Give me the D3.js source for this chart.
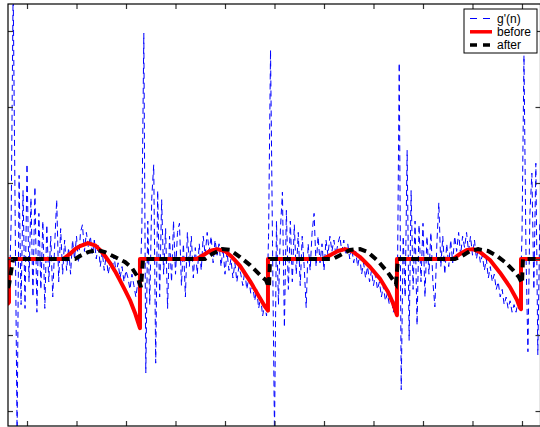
<!DOCTYPE html>
<html>
<head>
<meta charset="utf-8">
<script src="https://cdn.jsdelivr.net/npm/d3@7"></script>
<style>
  body { margin: 0; background: #fff; }
  svg { display: block; }
</style>
</head>
<body>
<div id="chart"></div>
<script>
// tick positions (labels are cut off in the original)
const xTicks = [0, 50, 100, 150, 200, 250, 300, 350, 400, 450, 500];
const yTicks = [-2, -1, 0, 1, 2, 3];

// g'(n), sampled every 2 samples starting at n = -18
const blueStart = -18;
const blueStep = 2;
const blueP1 = [-0.55, 0.5, 3.6, 0.6, -2.3, 1.1, -0.6, 0.9, -0.65, 1.25,
  -0.3, 0.8, -0.5, 0.95, -0.7, 0.6, -0.4, 0.5, -0.65, 0.45,
  -0.3, 0.3, -0.5, 0.2, 0.78, -0.3, 0.4, -0.2, 0.25, -0.15,
  0.15, -0.2, 0.25, 0.0, 0.3, -0.05, 0.35, 0.45, 0.1, 0.35,
  0.15, 0.3, 0.05, 0.25, 0.0, 0.2, -0.1, 0.1, -0.15, 0.05,
  -0.2, -0.05, -0.15, 0.05, -0.2, -0.05, -0.25, -0.1, -0.3, -0.15,
  -0.25, -0.4, -0.2, -0.35, -0.5, -0.3];
const blueP2 = [-0.5, 0.4, 2.97, -1.5, 0.5, -0.6, 0.8, 1.24, -1.37, 0.9,
  -0.5, 0.78, -0.2, 0.4, -0.65, 0.3, -0.3, 0.5, -0.2, 0.35,
  0.47, -0.35, 0.2, -0.5, 0.35, -0.1, 0.3, -0.25, 0.15, -0.2,
  0.2, -0.15, 0.3, 0.05, 0.35, 0.1, 0.3, -0.05, 0.25, 0.05,
  0.2, -0.1, 0.15, -0.2, 0.1, -0.15, 0.0, -0.25, -0.05, -0.3,
  -0.1, -0.2, -0.35, -0.15, -0.4, -0.25, -0.45, -0.35, -0.55, -0.4,
  -0.65, -0.5, -0.75, -0.6];
const blueP3 = [-0.75, 0.3, 2.75, 0.2, -2.3, 0.5, -0.6, 0.4, 0.88, -0.9,
  0.64, -0.4, 0.5, -0.3, 0.45, -0.2, 0.35, -0.35, 0.3, -0.1,
  -0.64, 0.2, -0.15, 0.35, 0.6, -0.1, 0.3, -0.05, 0.2, -0.15,
  0.25, 0.05, 0.3, 0.1, 0.25, 0.05, 0.2, 0.3, 0.1, 0.25,
  0.05, 0.2, 0.0, 0.15, -0.05, 0.1, -0.1, 0.05, -0.2, -0.05,
  -0.25, -0.1, -0.3, -0.15, -0.35, -0.2, -0.4, -0.3, -0.5, -0.35,
  -0.55, -0.45, -0.6, -0.5, -0.7, -0.55];
const blueP4 = [-0.6, 2.58, -1.72, 0.3, -0.5, 1.43, -1.07, 0.9, -0.4, 0.5,
  -0.87, 0.45, -0.3, 0.47, -0.5, 0.3, -0.2, 0.35, -0.3, -0.63,
  0.2, 0.74, -0.1, 0.3, -0.2, 0.2, -0.1, 0.25, -0.05, 0.3,
  0.1, 0.35, 0.05, 0.3, 0.15, 0.35, 0.1, 0.3, 0.05, 0.25,
  0.0, 0.15, -0.05, 0.05, -0.15, 0.0, -0.25, -0.1, -0.3, -0.2,
  -0.4, -0.3, -0.5, -0.4, -0.6, -0.5, -0.65, -0.55, -0.7, -0.6,
  -0.7, -0.55];
const blueP5 = [-0.6, 0.3, 2.68, 0.1, -1.22, 0.6, 1.13, -0.4, 1.26, -1.26, 0.5];
const blueValues = [].concat(blueP1, blueP2, blueP3, blueP4, blueP5);

// "before": [n, value]
const beforePts = [
  [-20, -0.6], [-18.2, -0.57], [-18.2, 0],
  [36.4, 0], [43.4, 0.066], [48.5, 0.13], [53.5, 0.17], [61.6, 0.21], [68.7, 0.18],
  [73.7, 0.12], [78.8, 0.04], [83.8, -0.05], [88.9, -0.16], [93.9, -0.28], [99, -0.41],
  [104, -0.54], [109.1, -0.71], [114.1, -0.91], [114.1, 0],
  [171.7, 0], [177.8, 0.05], [184.8, 0.105], [191.9, 0.13], [200, 0.105], [207.1, 0.026],
  [215.2, -0.09], [225.3, -0.29], [233.3, -0.47], [239.4, -0.605], [243.4, -0.68], [243.4, 0],
  [299, 0], [306.1, 0.05], [314.1, 0.105], [321.2, 0.13], [328.3, 0.105], [336.4, 0.026],
  [346.5, -0.105], [356.6, -0.26], [364.6, -0.43], [369.7, -0.58], [373.7, -0.74], [373.7, 0],
  [430.3, 0], [437.4, 0.066], [444.4, 0.12], [450.5, 0.13], [457.6, 0.09], [467.7, -0.013],
  [477.8, -0.18], [487.9, -0.37], [495, -0.54], [498, -0.645], [499, -0.66], [499, 0],
  [520, 0]
];

// "after": [n, value]
const afterPts = [
  [-19.2, -0.38], [-18.2, -0.34], [-14.1, 0],
  [48.5, 0], [53.5, 0.04], [61.6, 0.09], [70.7, 0.12], [78.8, 0.09], [88.9, 0.026],
  [99, -0.04], [106.1, -0.12], [111.1, -0.22], [115.2, -0.37], [117.2, 0],
  [179.8, 0], [186.9, 0.066], [197, 0.13], [205.1, 0.12], [215.2, 0.026], [225.3, -0.08],
  [235.4, -0.21], [241.4, -0.28], [244.4, -0.37], [245.5, 0],
  [309.1, 0], [316.2, 0.05], [326.3, 0.12], [336.4, 0.13], [344.4, 0.09], [354.5, -0.026],
  [364.6, -0.18], [372.7, -0.33], [374.7, 0],
  [432.3, 0], [439.4, 0.04], [447.5, 0.105], [455.6, 0.13], [465.7, 0.105], [474.7, 0.04],
  [482.8, -0.04], [490.9, -0.145], [497, -0.24], [500, -0.32], [501, 0],
  [520, 0]
];

const legendLabels = ["g'(n)", "before", "after"];

const width = 540, height = 427;
const frame = { left: 8, right: 540.5, top: 4, bottom: 426 };

const svg = d3.select("#chart")
  .append("svg")
  .attr("width", width)
  .attr("height", height);

const x = d3.scaleLinear()
  .domain([-19.2, 518.7])
  .range([frame.left, frame.right]);

const y = d3.scaleLinear()
  .domain([-2.197, 3.355])
  .range([frame.bottom, frame.top]);

svg.append("clipPath")
  .attr("id", "plotArea")
  .append("rect")
  .attr("x", frame.left)
  .attr("y", frame.top)
  .attr("width", frame.right - frame.left)
  .attr("height", frame.bottom - frame.top);

const plot = svg.append("g").attr("clip-path", "url(#plotArea)");

const blueData = blueValues.map((v, i) => [blueStart + i * blueStep, v]);
const line = d3.line().x(d => x(d[0])).y(d => y(d[1]));

plot.append("path")
  .datum(blueData)
  .attr("d", line)
  .attr("fill", "none")
  .attr("stroke", "#0000ff")
  .attr("stroke-width", 1)
  .attr("stroke-dasharray", "6,4");

plot.append("path")
  .datum(beforePts)
  .attr("d", line)
  .attr("fill", "none")
  .attr("stroke", "#ff0000")
  .attr("stroke-width", 4)
  .attr("stroke-linejoin", "round");

plot.append("path")
  .datum(afterPts)
  .attr("d", line)
  .attr("fill", "none")
  .attr("stroke", "#000")
  .attr("stroke-width", 4)
  .attr("stroke-dasharray", "8,5");

// axes: inward ticks, no labels
const tickStyle = g => {
  g.select(".domain").remove();
  g.selectAll(".tick line").attr("stroke", "#333").attr("stroke-width", 1.2);
};

svg.append("g")
  .attr("transform", `translate(0,${frame.top})`)
  .call(d3.axisTop(x).tickValues(xTicks).tickSize(-5).tickFormat(""))
  .call(tickStyle);

svg.append("g")
  .attr("transform", `translate(0,${frame.bottom})`)
  .call(d3.axisBottom(x).tickValues(xTicks).tickSize(-5).tickFormat(""))
  .call(tickStyle);

svg.append("g")
  .attr("transform", `translate(${frame.left},0)`)
  .call(d3.axisLeft(y).tickValues(yTicks).tickSize(-5).tickFormat(""))
  .call(tickStyle);

svg.append("g")
  .attr("transform", `translate(${frame.right},0)`)
  .call(d3.axisRight(y).tickValues(yTicks).tickSize(-5).tickFormat(""))
  .call(tickStyle);

svg.append("rect")
  .attr("x", frame.left)
  .attr("y", frame.top)
  .attr("width", frame.right - frame.left)
  .attr("height", frame.bottom - frame.top)
  .attr("fill", "none")
  .attr("stroke", "#000")
  .attr("stroke-width", 1.2);

// legend
const legend = svg.append("g").attr("transform", "translate(464,9)");
legend.append("rect")
  .attr("width", 73)
  .attr("height", 44)
  .attr("fill", "#fff")
  .attr("stroke", "#000")
  .attr("stroke-width", 1);

const legendStyles = [
  { color: "#0000ff", width: 1, dash: "7,6" },
  { color: "#ff0000", width: 3.5, dash: null },
  { color: "#000", width: 3.5, dash: "7,6" }
];

legendLabels.forEach((label, i) => {
  const cy = 9.5 + i * 13.3;
  const s = legendStyles[i];
  legend.append("line")
    .attr("x1", 6).attr("x2", 28)
    .attr("y1", cy).attr("y2", cy)
    .attr("stroke", s.color)
    .attr("stroke-width", s.width)
    .attr("stroke-dasharray", s.dash);
  legend.append("text")
    .attr("x", 33)
    .attr("y", cy + 4)
    .attr("font-family", "Liberation Sans, Arial, sans-serif")
    .attr("font-size", 12)
    .attr("fill", "#000")
    .text(label);
});
</script>
</body>
</html>
